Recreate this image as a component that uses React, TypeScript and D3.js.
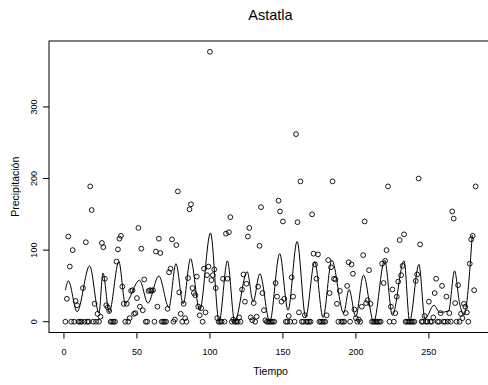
import React from "react";
import * as d3 from "d3";

const precip: number[] = [
  0, 32, 119, 77, 0, 100, 0, 29, 23, 0,
  0, 0, 47, 0, 111, 0, 0, 189, 156, 0,
  25, 0, 11, 0, 7, 110, 104, 60, 23, 20,
  15, 0, 0, 0, 0, 84, 101, 116, 120, 49,
  25, 0, 25, 0, 5, 43, 44, 11, 12, 33,
  131, 21, 102, 16, 59, 0, 0, 43, 44, 43,
  44, 0, 98, 21, 116, 96, 0, 0, 0, 0,
  18, 69, 74, 115, 0, 3, 107, 182, 41, 11,
  0, 25, 5, 0, 61, 157, 164, 47, 40, 37,
  63, 21, 9, 19, 0, 74, 13, 65, 77, 377,
  58, 65, 73, 47, 5, 0, 0, 0, 60, 0,
  123, 60, 125, 146, 0, 3, 0, 0, 0, 6,
  0, 45, 66, 28, 53, 119, 131, 6, 2, 26,
  0, 7, 49, 106, 160, 40, 16, 2, 0, 0,
  0, 0, 0, 0, 54, 35, 169, 154, 28, 140,
  32, 0, 0, 8, 0, 62, 35, 0, 262, 139,
  13, 196, 0, 0, 9, 0, 0, 0, 0, 150,
  95, 80, 60, 94, 0, 0, 0, 0, 0, 9,
  86, 40, 76, 196, 60, 59, 25, 0, 43, 0,
  0, 0, 12, 50, 83, 0, 80, 67, 17, 5,
  0, 3, 0, 21, 93, 140, 26, 30, 72, 25,
  0, 0, 0, 0, 0, 0, 0, 81, 54, 85,
  100, 189, 0, 21, 45, 0, 12, 35, 56, 114,
  65, 78, 122, 0, 0, 0, 0, 0, 0, 0,
  57, 66, 200, 108, 0, 0, 8, 0, 0, 28,
  0, 0, 6, 40, 60, 0, 0, 12, 50, 0,
  0, 35, 0, 12, 0, 154, 144, 26, 0, 51,
  0, 11, 5, 25, 21, 13, 0, 81, 115, 120,
  44, 189,
];

const fitT: number[] = [
  1, 3, 9, 17.6, 24, 26.7, 31, 37.6, 42, 51.8, 57.5, 65, 71.9, 76.7, 81.7,
  86.7, 93, 100.4, 106.3, 112, 117, 125.5, 129.6, 134.2, 141, 147.8, 153.5,
  159.7, 165.6, 171.8, 177.5, 183.5, 191.6, 195.3, 199.9, 205.2, 212.2, 219.7,
  225, 233, 236.8, 243.2, 247.3, 253.5, 257.4, 263.5, 267.6, 271, 274, 279.7,
];
const fitV: number[] = [
  44, 57, 14, 78, 12, 68, 13, 84, 26, 58, 26, 64, 20, 81, 25,
  88, 16, 124, 0, 85, 0, 70, 28, 67, 0, 95, 16,
  112, 7, 84, 6, 86, 12, 45, 7, 65, 0, 86,
  9, 85, 1, 80, 4, 23, 13, 15, 71, 26, 9, 121,
];

const xTicks: number[] = [0, 50, 100, 150, 200, 250];
const yTicks: number[] = [0, 100, 200, 300];

const W = 488;
const H = 385;
const L = 49, R = 492, T = 41, B = 332.5;
const FONT = "'Liberation Sans', Arial, sans-serif";

export default function App() {
  const n = precip.length;
  const xs = precip.map((_, i) => i + 1);
  const xr = n - 1;
  const x = d3.scaleLinear().domain([1 - 0.04 * xr, n + 0.04 * xr]).range([L, R]);
  const ymax = d3.max(precip) as number;
  const y = d3.scaleLinear().domain([-0.04 * ymax, ymax * 1.04]).range([B, T]);

  const line = d3
    .line<number>()
    .x((_, i) => x(fitT[i]))
    .y((d) => y(d))
    .curve(d3.curveMonotoneX);

  return (
    <svg
      width={W}
      height={H}
      style={{ position: "absolute", left: 0, top: 0, background: "white" }}
      fontFamily={FONT}
    >
      <rect x={0} y={0} width={W} height={H} fill="white" />
      <text x={(L + R) / 2} y={20} textAnchor="middle" fontSize={14.5} fill="#000">
        Astatla
      </text>
      <rect x={L} y={T} width={R - L} height={B - T} fill="none" stroke="#000" strokeWidth={1} />
      {xTicks.map((t) => (
        <g key={"x" + t}>
          <line x1={x(t)} x2={x(t)} y1={B} y2={B + 6} stroke="#000" />
          <text x={x(t)} y={354.5} textAnchor="middle" fontSize={9}>
            {t}
          </text>
        </g>
      ))}
      <line x1={x(0)} x2={x(250)} y1={B} y2={B} stroke="#000" />
      {yTicks.map((t) => (
        <g key={"y" + t}>
          <line x1={L - 6} x2={L} y1={y(t)} y2={y(t)} stroke="#000" />
          <text
            transform={`translate(36.5,${y(t)}) rotate(-90)`}
            textAnchor="middle"
            fontSize={9}
          >
            {t}
          </text>
        </g>
      ))}
      <text x={(L + R) / 2} y={375} textAnchor="middle" fontSize={10.5}>
        Tiempo
      </text>
      <text
        transform={`translate(19,${(T + B) / 2}) rotate(-90)`}
        textAnchor="middle"
        fontSize={10.5}
      >
        Precipitación
      </text>
      <path d={line(fitV) || ""} fill="none" stroke="#000" strokeWidth={1} />
      {precip.map((v, i) => (
        <circle
          key={i}
          cx={x(xs[i])}
          cy={y(v)}
          r={2.4}
          fill="none"
          stroke="#000"
          strokeWidth={0.9}
        />
      ))}
    </svg>
  );
}
